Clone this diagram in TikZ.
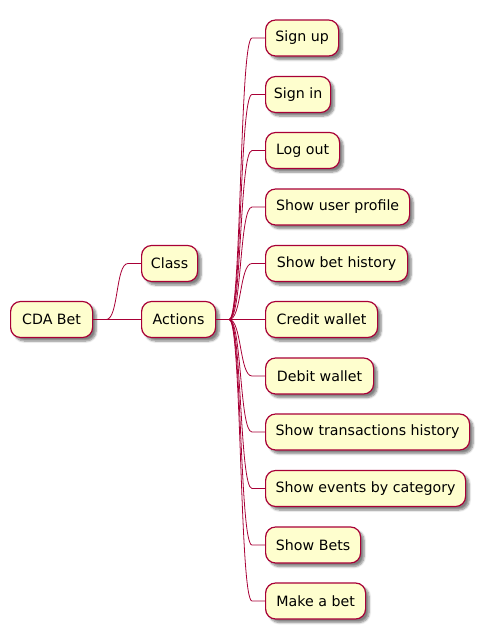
\documentclass[tikz,border=0pt]{standalone}
\usepackage{fontspec}
\setmainfont{DejaVu Sans}
\usetikzlibrary{shadows.blur,calc}
\definecolor{nodefill}{HTML}{FEFECE}
\definecolor{nodeline}{HTML}{A80036}
\tikzset{
  mm/.style={draw=nodeline, fill=nodefill, line width=1.2pt, rounded corners=10pt,
    minimum height=36pt, inner xsep=0pt, anchor=west, font=\fontsize{14.2}{16}\selectfont,
    blur shadow={shadow xshift=3.5pt, shadow yshift=-3.5pt, shadow blur steps=6, shadow opacity=50}},
  link/.style={draw=nodeline, line width=0.8pt}
}
\newcommand{\mmlink}[2]{%
  \draw[link] (#1.east) -- ++(13,0) coordinate (a)
    .. controls ($(a)+(12.5,0)$) and ($(#2.west)+(-25.5,0)$) .. ($(#2.west)+(-13,0)$) -- (#2.west);}
\begin{document}
\begin{tikzpicture}[x=1pt,y=-1pt]
\useasboundingbox (0,0) rectangle (488,640);
\node[mm, minimum width=82] (root) at (10,319.5) {CDA Bet};
\node[mm, minimum width=56] (class) at (141,263.5) {Class};
\node[mm, minimum width=74] (act) at (141,319.5) {Actions};
\node[mm, minimum width=73] (n1) at (265,38) {Sign up};
\node[mm, minimum width=65] (n2) at (265,94.5) {Sign in};
\node[mm, minimum width=74] (n3) at (265,150.5) {Log out};
\node[mm, minimum width=144] (n4) at (265,207) {Show user profile};
\node[mm, minimum width=142] (n5) at (265,263.5) {Show bet history};
\node[mm, minimum width=112] (n6) at (265,319.5) {Credit wallet};
\node[mm, minimum width=108] (n7) at (265,376) {Debit wallet};
\node[mm, minimum width=204] (n8) at (265,432) {Show transactions history};
\node[mm, minimum width=200] (n9) at (265,488.5) {Show events by category};
\node[mm, minimum width=95] (n10) at (265,545) {Show Bets};
\node[mm, minimum width=100] (n11) at (265,601) {Make a bet};
\mmlink{root}{class}
\draw[link] (root.east) -- (act.west);
\foreach \i in {1,...,11} {\mmlink{act}{n\i}}
\end{tikzpicture}
\end{document}
